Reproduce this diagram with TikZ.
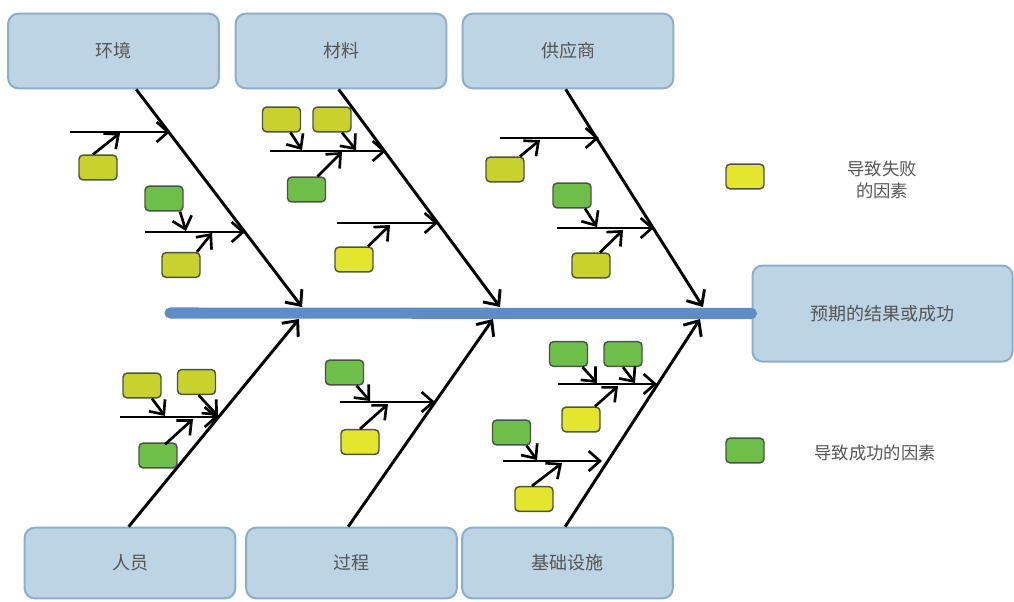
\documentclass[tikz,border=0pt]{standalone}
\usepackage{fontspec}
\setmainfont{Noto Sans CJK SC}
\usetikzlibrary{arrows.meta,calc}

\definecolor{catfill}{HTML}{BDD4E4}
\definecolor{catline}{HTML}{8DAECB}
\definecolor{spinecol}{HTML}{5E8CC4}
\definecolor{olive}{HTML}{C9D22C}
\definecolor{brightyel}{HTML}{E4E62E}
\definecolor{goodgreen}{HTML}{6DBF4A}
\definecolor{boxedge}{HTML}{4A5444}
\definecolor{labelcol}{HTML}{555555}

\tikzset{
  category/.style={draw=catline, fill=catfill, line width=1.5pt, rounded corners=7.5pt,
    minimum width=158pt, minimum height=56pt, inner sep=0pt,
    text=labelcol, font=\fontsize{13.5}{15}\selectfont},
  factor/.style={draw=boxedge, line width=1.1pt, rounded corners=3pt,
    minimum width=28.5pt, minimum height=18.5pt, inner sep=0pt},
  fail/.style={factor, fill=olive},
  failb/.style={factor, fill=brightyel},
  win/.style={factor, fill=goodgreen},
  bone/.style={line width=2.2pt, -{Straight Barb[length=9pt,width=16pt]}},
  twig/.style={line width=2pt, -{Straight Barb[length=8.5pt,width=15pt]}},
  legendtext/.style={text=labelcol, font=\fontsize{13}{16}\selectfont, align=center}
}

\begin{document}
\begin{tikzpicture}[x=0.75pt,y=-0.75pt]
\useasboundingbox (0,0) rectangle (1014,601);

% category boxes
\node[category] (env)   at (113.5,51) {环境};
\node[category] (mat)   at (341,51)   {材料};
\node[category] (sup)   at (568,51)   {供应商};
\node[category, minimum height=53pt] (ppl)  at (130,563) {人员};
\node[category, minimum height=53pt] (proc) at (351.5,563) {过程};
\node[category, minimum height=53pt] (infra) at (567.5,563) {基础设施};
\node[category, minimum width=195pt, minimum height=72pt] (goal) at (882.5,313.5) {预期的结果或成功};

% spine
\coordinate (tail) at (170,313);
\draw[spinecol, line width=8.3pt, line cap=round] (tail) -- (goal.west);

% main bones
\coordinate (t1s) at ($(env.south west)+(129,0)$);
\coordinate (t1e) at (302,307);
\coordinate (t2s) at ($(mat.south west)+(104,0)$);
\coordinate (t2e) at (500,307);
\coordinate (t3s) at ($(sup.south west)+(104,0)$);
\coordinate (t3e) at (703,307);
\coordinate (b1s) at ($(ppl.north west)+(105,0)$);
\coordinate (b1e) at (299,319);
\coordinate (b2s) at ($(proc.north west)+(103,0)$);
\coordinate (b2e) at (493,319);
\coordinate (b3s) at ($(infra.north west)+(104,0)$);
\coordinate (b3e) at (700,319);
\draw[bone] (t1s) -- (t1e);
\draw[bone] (t2s) -- (t2e);
\draw[bone] (t3s) -- (t3e);
\draw[bone] (b1s) -- (b1e);
\draw[bone] (b2s) -- (b2e);
\draw[bone] (b3s) -- (b3e);

% branch ends
\coordinate (h1a) at (70,132);   \coordinate (h1b) at (170,132);
\coordinate (h2a) at (145,232);  \coordinate (h2b) at (245,232);
\coordinate (h3a) at (270,151);  \coordinate (h3b) at (386,151);
\coordinate (h4a) at (337,223);  \coordinate (h4b) at (438,223);
\coordinate (h5a) at (500,138);  \coordinate (h5b) at (599,138);
\coordinate (h6a) at (557,228);  \coordinate (h6b) at (654,228);
\coordinate (h7a) at (120,417);  \coordinate (h7b) at (218,417);
\coordinate (h8a) at (340,402);  \coordinate (h8b) at (435,402);
\coordinate (h9a) at (558,384);  \coordinate (h9b) at (657,384);
\coordinate (h10a) at (503,461); \coordinate (h10b) at (602,461);
\foreach \i in {1,...,10} \draw[twig] (h\i a) -- (h\i b);

% factor boxes
\node[fail]  (a1) at (98,167.5) {};
\node[win]   (a2) at (164,198.5) {};
\node[fail]  (a3) at (181,265) {};
\node[fail]  (m1) at (281.5,119.5) {};
\node[fail]  (m2) at (332,119.5) {};
\node[win]   (m3) at (306.5,189.5) {};
\node[failb] (m4) at (354,259.5) {};
\node[fail]  (s1) at (505,169.5) {};
\node[win]   (s2) at (572,195.5) {};
\node[fail]  (s3) at (591,265.5) {};
\node[fail]  (p1) at (142,385.5) {};
\node[fail]  (p2) at (196.5,382) {};
\node[win]   (p3) at (158,455.5) {};
\node[win]   (r1) at (344.5,372.5) {};
\node[failb] (r2) at (360,442) {};
\node[win]   (i1) at (568.5,354) {};
\node[win]   (i2) at (623,354) {};
\node[failb] (i3) at (581,419.5) {};
\node[win]   (i4) at (511.5,432.5) {};
\node[failb] (i5) at (534,499) {};

% arrows from factors to branches
\coordinate (a1t) at (120,133); \draw[twig] ($(a1.north)+(-5,0)$) -- (a1t);
\coordinate (a2t) at (186,231); \draw[twig] ($(a2.south)+(16,0)$) -- (a2t);
\coordinate (a3t) at (212,233); \draw[twig] ($(a3.north)+(16,0)$) -- (a3t);
\coordinate (m1t) at (302,150); \draw[twig] ($(m1.south)+(9,0)$) -- (m1t);
\coordinate (m2t) at (356,150); \draw[twig] ($(m2.south)+(10,0)$) -- (m2t);
\coordinate (m3t) at (342,152); \draw[twig] ($(m3.north)+(11,0)$) -- (m3t);
\coordinate (m4t) at (390,225); \draw[twig] ($(m4.north)+(14,0)$) -- (m4t);
\coordinate (s1t) at (540,140); \draw[twig] ($(s1.north)+(15,0)$) -- (s1t);
\coordinate (s2t) at (597,227); \draw[twig] ($(s2.south)+(13,0)$) -- (s2t);
\coordinate (s3t) at (623,230); \draw[twig] ($(s3.north)+(9,0)$) -- (s3t);
\coordinate (p1t) at (165,416); \draw[twig] ($(p1.south)+(10,0)$) -- (p1t);
\coordinate (p2t) at (218,416); \draw[twig] ($(p2.south)+(2,0)$) -- (p2t);
\coordinate (p3t) at (193,419); \draw[twig] ($(p3.north)+(7,2)$) -- (p3t);
\coordinate (r1t) at (370,401); \draw[twig] ($(r1.south)+(12,0)$) -- (r1t);
\coordinate (r2t) at (388,404); \draw[twig] ($(r2.north)+(0,0)$) -- (r2t);
\coordinate (i1t) at (597,383); \draw[twig] ($(i1.south)+(14,0)$) -- (i1t);
\coordinate (i2t) at (635,383); \draw[twig] ($(i2.south)+(0,0)$) -- (i2t);
\coordinate (i3t) at (618,386); \draw[twig] ($(i3.north)+(14,0)$) -- (i3t);
\coordinate (i4t) at (537,460); \draw[twig] ($(i4.south)+(15,0)$) -- (i4t);
\coordinate (i5t) at (562,463); \draw[twig] ($(i5.north)+(-2,0)$) -- (i5t);

% legend
\node[failb] (keyfail) at (745,176.5) {};
\node[win]   (keywin)  at (745,450.5) {};
\node[legendtext] (keyfailtxt) at (882,180) {导致失败\\的因素};
\node[legendtext] (keywintxt)  at (875,453) {导致成功的因素};
\end{tikzpicture}
\end{document}
